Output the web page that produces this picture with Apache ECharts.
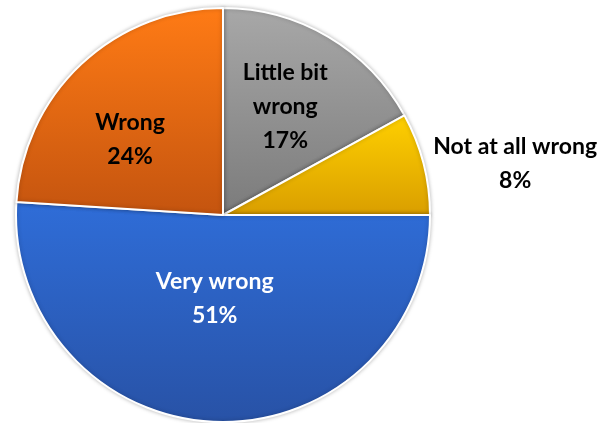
<!DOCTYPE html>
<html>
<head>
<meta charset="utf-8">
<script src="https://cdn.jsdelivr.net/npm/echarts@6/dist/echarts.min.js"></script>
<style>
  html, body { margin: 0; padding: 0; background: #fff; }
  #char { width: 602px; height: 423px; }
</style>
</head>
<body>
<div id="char"></div>
<script>
// slices, clockwise from 12 o'clock
var names = ['Little bit wrong', 'Not at all wrong', 'Very wrong', 'Wrong'];
var shares = [17, 8, 51, 24];
var labelText = ['Little bit\nwrong', 'Not at all wrong', 'Very wrong', 'Wrong'];

var fills = [
    ['#A8A8A8', '#7B7B7B'],
    ['#FFD000', '#D99E00'],
    ['#2F6DD8', '#2852A6'],
    ['#FF7B15', '#C4540F']
];
var textColors = ['#000', '#000', '#fff', '#000'];
var offsets = [[8, -17], [189, -25], [-5, -23], [-20, 2]];

function grad(c) {
    return {
        type: 'linear', x: 0, y: 0, x2: 0, y2: 1,
        colorStops: [{ offset: 0, color: c[0] }, { offset: 1, color: c[1] }],
        global: false
    };
}

var data = [];
for (var i = 0; i < names.length; i++) {
    data.push({
        name: names[i],
        value: shares[i],
        itemStyle: { color: grad(fills[i]) },
        label: {
            color: textColors[i],
            offset: offsets[i],
            formatter: labelText[i] + '\n' + shares[i] + '%'
        }
    });
}

var myChart = echarts.init(document.getElementById('char'));
var option = {
    animation: false,
    series: [{
        type: 'pie',
        center: [223, 215],
        radius: [0, 207],
        startAngle: 90,
        clockwise: true,
        itemStyle: {
            borderColor: '#fff',
            borderWidth: 2,
            shadowBlur: 4,
            shadowColor: 'rgba(0,0,0,0.25)'
        },
        label: {
            show: true,
            position: 'inside',
            fontFamily: 'Lato',
            fontWeight: 'bold',
            fontSize: 23,
            lineHeight: 34,
            align: 'center'
        },
        labelLine: { show: false },
        emphasis: { disabled: true },
        data: data
    }]
};
myChart.setOption(option);
</script>
</body>
</html>
